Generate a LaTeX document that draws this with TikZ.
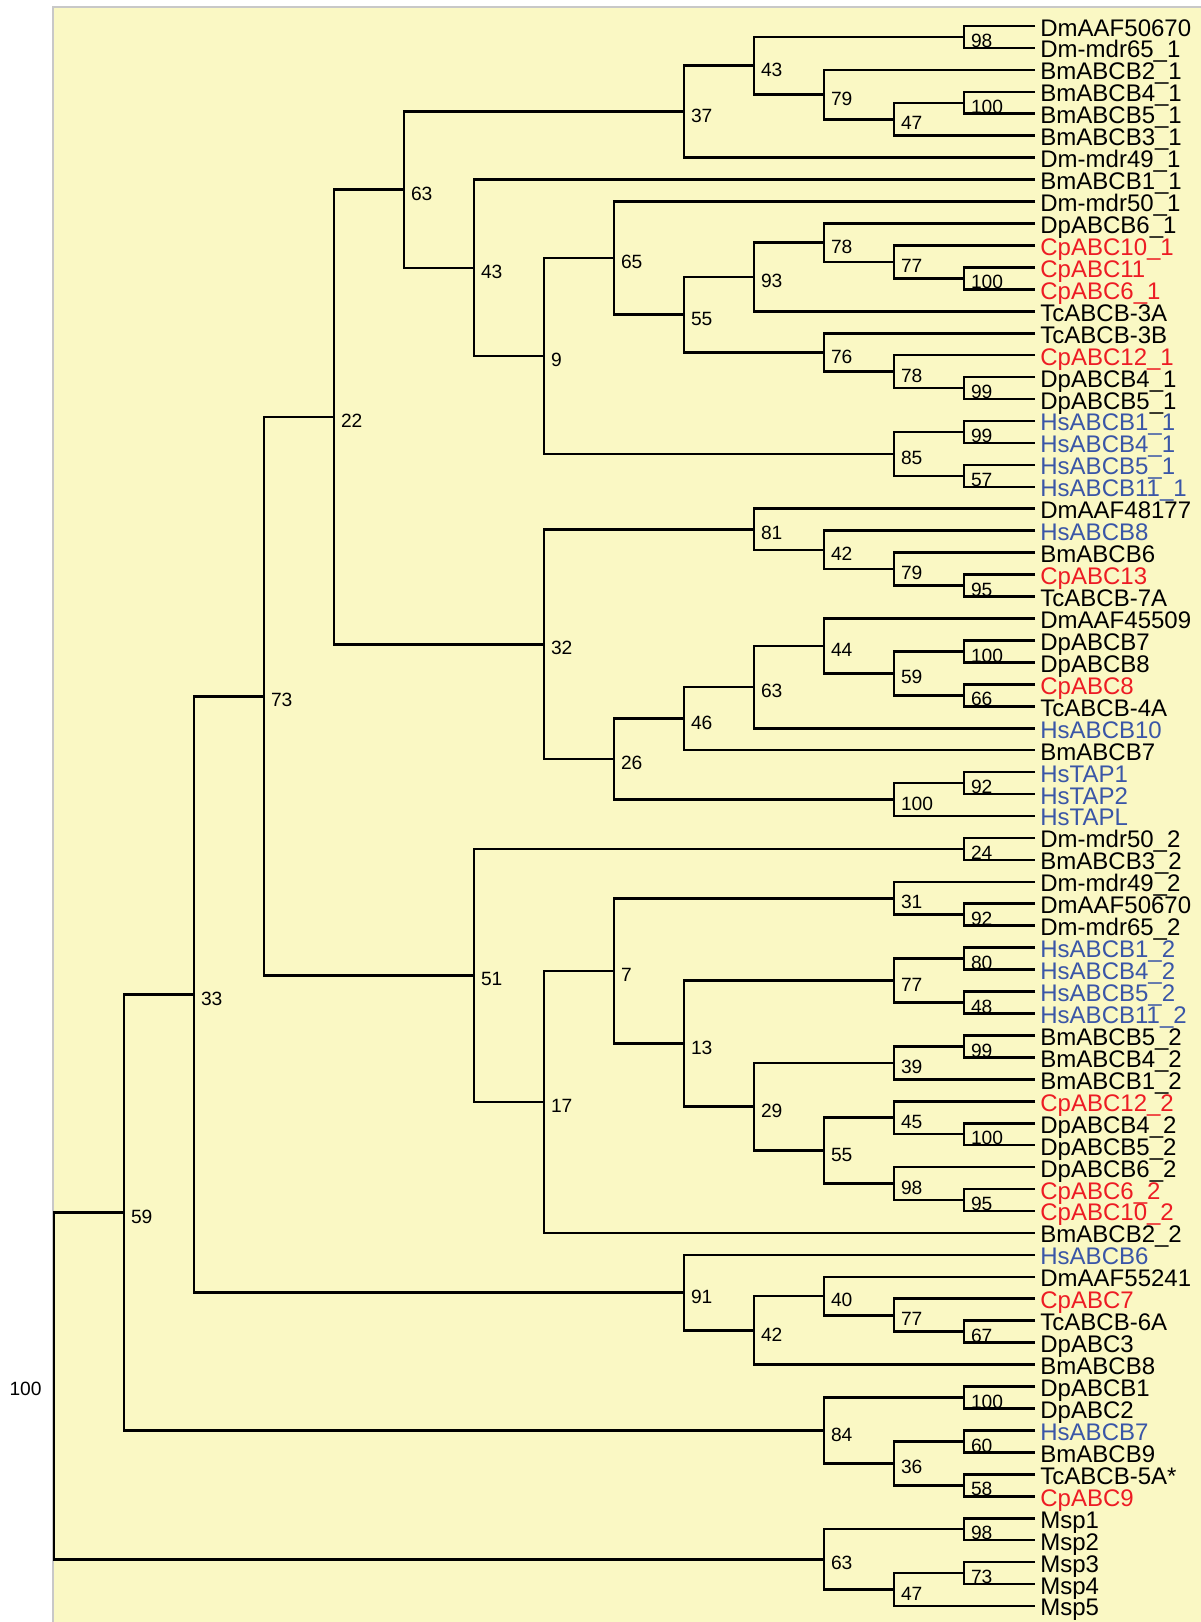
\documentclass[tikz,border=0pt]{standalone}
\usepackage{fontspec}
\setmainfont{Liberation Sans}
\usetikzlibrary{calc}
\definecolor{bgc}{HTML}{FAF8C4}
\definecolor{bordc}{HTML}{C8C8C8}
\definecolor{rd}{HTML}{ED1C24}
\definecolor{bl}{HTML}{3A56A7}
\colorlet{bk}{black}
\tikzset{
  branch/.style={line width=1.3pt,black},
  leaf/.style={anchor=west,inner xsep=2.5pt,inner ysep=0pt,text height=10pt,text depth=0pt,font=\fontsize{12}{12}\selectfont},
  boot/.style={anchor=west,inner sep=0pt,xshift=3.3pt,yshift=-2pt,font=\fontsize{9.6}{10}\selectfont},
  rootlab/.style={anchor=east,inner sep=0pt,xshift=-6pt,yshift=-1.5pt,font=\fontsize{9.6}{10}\selectfont}
}
\newcommand\clade[5]{%
  \coordinate (tmp) at ($(#3)!0.5!(#4)$);
  \coordinate (#1) at (tmp -| L#2);
  \draw[branch] (#3) -| (#1) |- (#4);
  \node[boot] (#1t) at (#1) {#5};
}
\begin{document}
\begin{tikzpicture}[x=0.5pt,y=-0.5pt]
\useasboundingbox (0,0) rectangle (1200,1622);
\fill[bgc] (52,6) rectangle (1210,1630);
\draw[bordc,line width=1pt] (52.5,1630) -- (52.5,6.5) -- (1210,6.5);
\foreach \k in {0,...,13} \coordinate (L\k) at ({54+70*\k},0);
\foreach \name/\col [count=\i] in {DmAAF50670/bk, Dm-mdr65\_1/bk, BmABCB2\_1/bk, BmABCB4\_1/bk, BmABCB5\_1/bk, BmABCB3\_1/bk, Dm-mdr49\_1/bk, BmABCB1\_1/bk, Dm-mdr50\_1/bk, DpABCB6\_1/bk, CpABC10\_1/rd, CpABC11/rd, CpABC6\_1/rd, TcABCB-3A/bk, TcABCB-3B/bk, CpABC12\_1/rd, DpABCB4\_1/bk, DpABCB5\_1/bk, HsABCB1\_1/bl, HsABCB4\_1/bl, HsABCB5\_1/bl, HsABCB11\_1/bl, DmAAF48177/bk, HsABCB8/bl, BmABCB6/bk, CpABC13/rd, TcABCB-7A/bk, DmAAF45509/bk, DpABCB7/bk, DpABCB8/bk, CpABC8/rd, TcABCB-4A/bk, HsABCB10/bl, BmABCB7/bk, HsTAP1/bl, HsTAP2/bl, HsTAPL/bl, Dm-mdr50\_2/bk, BmABCB3\_2/bk, Dm-mdr49\_2/bk, DmAAF50670/bk, Dm-mdr65\_2/bk, HsABCB1\_2/bl, HsABCB4\_2/bl, HsABCB5\_2/bl, HsABCB11\_2/bl, BmABCB5\_2/bk, BmABCB4\_2/bk, BmABCB1\_2/bk, CpABC12\_2/rd, DpABCB4\_2/bk, DpABCB5\_2/bk, DpABCB6\_2/bk, CpABC6\_2/rd, CpABC10\_2/rd, BmABCB2\_2/bk, HsABCB6/bl, DmAAF55241/bk, CpABC7/rd, TcABCB-6A/bk, DpABC3/bk, BmABCB8/bk, DpABCB1/bk, DpABC2/bk, HsABCB7/bl, BmABCB9/bk, TcABCB-5A*/bk, CpABC9/rd, Msp1/bk, Msp2/bk, Msp3/bk, Msp4/bk, Msp5/bk}
  \node[leaf,text=\col] (l\i) at (1035,{26+21.944*(\i-1)}) {\name};
% block 63
\clade{a98}{13}{l1.west}{l2.west}{98}
\clade{a100}{13}{l4.west}{l5.west}{100}
\clade{a47}{12}{a100}{l6.west}{47}
\clade{a79}{11}{l3.west}{a47}{79}
\clade{a43}{10}{a98}{a79}{43}
\clade{a37}{9}{a43}{l7.west}{37}
\clade{b100}{13}{l12.west}{l13.west}{100}
\clade{b77}{12}{l11.west}{b100}{77}
\clade{b78}{11}{l10.west}{b77}{78}
\clade{b93}{10}{b78}{l14.west}{93}
\clade{b99}{13}{l17.west}{l18.west}{99}
\clade{b78x}{12}{l16.west}{b99}{78}
\clade{b76}{11}{l15.west}{b78x}{76}
\clade{b55}{9}{b93}{b76}{55}
\clade{b65}{8}{l9.west}{b55}{65}
\clade{c99}{13}{l19.west}{l20.west}{99}
\clade{c57}{13}{l21.west}{l22.west}{57}
\clade{c85}{12}{c99}{c57}{85}
\clade{c9}{7}{b65}{c85}{9}
\clade{c43}{6}{l8.west}{c9}{43}
\clade{c63}{5}{a37}{c43}{63}
% block 32
\clade{d95}{13}{l26.west}{l27.west}{95}
\clade{d79}{12}{l25.west}{d95}{79}
\clade{d42}{11}{l24.west}{d79}{42}
\clade{d81}{10}{l23.west}{d42}{81}
\clade{e100}{13}{l29.west}{l30.west}{100}
\clade{e66}{13}{l31.west}{l32.west}{66}
\clade{e59}{12}{e100}{e66}{59}
\clade{e44}{11}{l28.west}{e59}{44}
\clade{e63}{10}{e44}{l33.west}{63}
\clade{e46}{9}{e63}{l34.west}{46}
\clade{f92}{13}{l35.west}{l36.west}{92}
\clade{f100}{12}{f92}{l37.west}{100}
\clade{e26}{8}{e46}{f100}{26}
\clade{d32}{7}{d81}{e26}{32}
\clade{g22}{4}{c63}{d32}{22}
% block 51
\clade{h24}{13}{l38.west}{l39.west}{24}
\clade{h92}{13}{l41.west}{l42.west}{92}
\clade{h31}{12}{l40.west}{h92}{31}
\clade{h80}{13}{l43.west}{l44.west}{80}
\clade{h48}{13}{l45.west}{l46.west}{48}
\clade{h77}{12}{h80}{h48}{77}
\clade{i99}{13}{l47.west}{l48.west}{99}
\clade{i39}{12}{i99}{l49.west}{39}
\clade{i100}{13}{l51.west}{l52.west}{100}
\clade{i45}{12}{l50.west}{i100}{45}
\clade{i95}{13}{l54.west}{l55.west}{95}
\clade{i98}{12}{l53.west}{i95}{98}
\clade{i55}{11}{i45}{i98}{55}
\clade{i29}{10}{i39}{i55}{29}
\clade{h13}{9}{h77}{i29}{13}
\clade{h7}{8}{h31}{h13}{7}
\clade{h17}{7}{h7}{l56.west}{17}
\clade{h51}{6}{h24}{h17}{51}
\clade{g73}{3}{g22}{h51}{73}
% block 91
\clade{j67}{13}{l60.west}{l61.west}{67}
\clade{j77}{12}{l59.west}{j67}{77}
\clade{j40}{11}{l58.west}{j77}{40}
\clade{j42}{10}{j40}{l62.west}{42}
\clade{j91}{9}{l57.west}{j42}{91}
\clade{k33}{2}{g73}{j91}{33}
% block 84
\clade{m100}{13}{l63.west}{l64.west}{100}
\clade{m60}{13}{l65.west}{l66.west}{60}
\clade{m58}{13}{l67.west}{l68.west}{58}
\clade{m36}{12}{m60}{m58}{36}
\clade{m84}{11}{m100}{m36}{84}
\clade{k59}{1}{k33}{m84}{59}
% Msp
\clade{n98}{13}{l69.west}{l70.west}{98}
\clade{n73}{13}{l71.west}{l72.west}{73}
\clade{n47}{12}{n73}{l73.west}{47}
\clade{n63}{11}{n98}{n47}{63}
% root
\coordinate (tmp) at ($(k59)!0.5!(n63)$);
\coordinate (root) at (tmp -| L0);
\draw[branch] (k59) -| (root) |- (n63);
\node[rootlab] (roott) at (root) {100};
\end{tikzpicture}
\end{document}
